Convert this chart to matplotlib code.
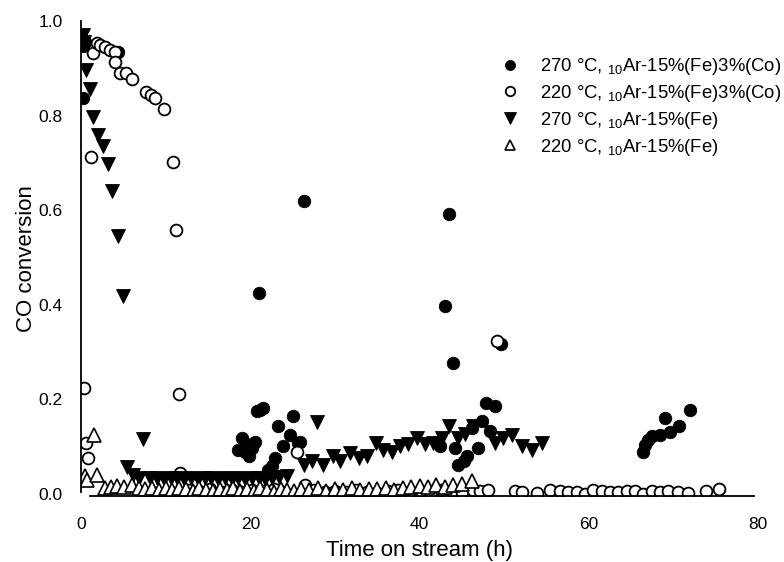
import matplotlib
matplotlib.use("Agg")
import matplotlib.pyplot as plt

plt.rcParams.update(
    {
        "font.family": ["Liberation Sans", "DejaVu Sans"],
        "mathtext.fontset": "custom",
        "mathtext.rm": "Liberation Sans",
        "mathtext.default": "regular",
    }
)

# 270 °C, 10Ar-15%(Fe)3%(Co)  (filled circles)
fc270_x = [0.2, 0.5, 0.2, 4.4,
           18.6, 19.0, 19.4, 19.8, 20.2, 20.6, 19.5, 20.8, 21.2, 21.5, 21.0,
           22.1, 22.6, 22.9, 23.3, 23.9, 24.7, 25.1, 25.6, 25.9, 26.4,
           42.4, 43.0, 43.5, 44.0, 44.2, 44.6, 45.2, 45.6, 46.2, 46.9, 47.4, 47.8, 48.3, 48.9, 49.6,
           66.4, 66.7, 67.0, 67.5, 68.4, 69.0, 69.6, 70.7, 72.0]
fc270_y = [0.838, 0.955, 0.948, 0.935,
           0.093, 0.118, 0.088, 0.080, 0.098, 0.111, 0.105, 0.175, 0.177, 0.181, 0.425,
           0.050, 0.059, 0.076, 0.143, 0.101, 0.124, 0.166, 0.107, 0.111, 0.619,
           0.101, 0.398, 0.592, 0.278, 0.097, 0.061, 0.069, 0.080, 0.139, 0.097, 0.154, 0.192, 0.133, 0.187, 0.318,
           0.090, 0.104, 0.115, 0.122, 0.125, 0.160, 0.132, 0.145, 0.177]

# 220 °C, 10Ar-15%(Fe)3%(Co)  (open circles)
fc220_x = [0.35, 0.6, 0.85, 1.2, 1.4, 1.9, 2.2, 2.8, 3.4, 4.0, 4.0, 4.6, 5.3, 6.0,
           7.7, 8.3, 8.7, 9.8, 10.9, 11.2, 11.6, 11.7, 25.5, 49.1,
           12.8, 14.0, 15.3, 16.5, 17.8, 19.0, 20.2, 21.5, 22.8, 24.0, 26.5, 27.5, 28.8,
           30.0, 31.3, 32.5, 33.8, 35.0, 36.3, 37.5, 38.8, 40.0, 41.3, 42.5, 43.8, 45.0,
           46.3, 47.2, 48.1, 51.3, 52.1, 53.9, 55.4, 56.6, 57.6, 58.6, 59.6, 60.5, 61.6,
           62.5, 63.5, 64.5, 65.5, 66.4, 67.5, 68.4, 69.4, 70.6, 71.7, 73.8, 75.4]
fc220_y = [0.225, 0.107, 0.076, 0.712, 0.932, 0.954, 0.949, 0.945, 0.939, 0.935, 0.914, 0.890, 0.890, 0.877,
           0.849, 0.844, 0.838, 0.813, 0.701, 0.558, 0.211, 0.044, 0.090, 0.324,
           0.008, 0.006, 0.010, 0.005, 0.008, 0.004, 0.009, 0.006, 0.010, 0.005, 0.020, 0.008, 0.005,
           0.006, 0.004, 0.008, 0.005, 0.003, 0.006, 0.008, 0.004, 0.007, 0.005, 0.009, 0.006, 0.004,
           0.008, 0.007, 0.008, 0.006, 0.004, 0.003, 0.009, 0.006, 0.005, 0.004, 0.001, 0.008, 0.006,
           0.005, 0.004, 0.007, 0.006, 0.001, 0.007, 0.005, 0.006, 0.004, 0.003, 0.006, 0.010]

# 270 °C, 10Ar-15%(Fe)  (filled down triangles)
fe270_x = [0.2, 0.4, 0.6, 1.1, 1.4, 2.0, 2.6, 3.2, 3.7, 4.4, 5.0, 5.4, 6.2, 6.8, 7.3,
           8.2, 9.0, 9.8, 10.6, 11.4, 12.2, 13.0, 13.8, 14.6, 15.4, 16.2, 17.0, 17.8,
           18.6, 19.4, 20.2, 21.0, 21.8, 22.6, 23.4, 24.3,
           26.3, 27.3, 27.9, 28.6, 29.8, 30.6, 31.8, 32.8, 33.8, 34.9, 35.7, 36.7, 37.7,
           38.7, 39.7, 40.7, 41.6, 42.7, 43.5, 44.6, 45.4, 46.3, 48.9, 49.9, 50.9, 52.1, 53.3, 54.5]
fe270_y = [0.970, 0.955, 0.897, 0.856, 0.798, 0.760, 0.735, 0.697, 0.640, 0.545, 0.419, 0.057, 0.040, 0.034, 0.116,
           0.033, 0.035, 0.032, 0.034, 0.033, 0.031, 0.034, 0.032, 0.033, 0.035, 0.031, 0.033, 0.032,
           0.034, 0.031, 0.033, 0.035, 0.032, 0.034, 0.036, 0.038,
           0.061, 0.069, 0.152, 0.061, 0.080, 0.069, 0.086, 0.076, 0.080, 0.107, 0.093, 0.090, 0.101,
           0.105, 0.118, 0.105, 0.107, 0.118, 0.143, 0.118, 0.128, 0.143, 0.107, 0.118, 0.124, 0.101, 0.093, 0.107]

# 220 °C, 10Ar-15%(Fe)  (open up triangles)
fe220_x = [0.5, 0.7, 1.5, 1.9,
           2.8, 3.5, 4.3, 5.1, 6.0, 6.8, 7.6, 8.4, 9.2, 10.0, 10.8, 11.6, 12.4, 13.2, 14.0,
           14.8, 15.6, 16.4, 17.2, 18.0, 18.8, 19.6, 20.4, 21.2, 22.0, 22.8, 23.6, 24.4, 25.2,
           26.0, 27.0, 28.0, 29.0, 30.0, 31.0, 32.0, 33.0, 34.0, 35.0, 36.0, 37.0, 38.0, 39.0,
           40.0, 41.0, 42.0, 43.0, 44.0, 45.0, 46.2]
fe220_y = [0.038, 0.030, 0.124, 0.040,
           0.013, 0.016, 0.018, 0.015, 0.019, 0.012, 0.010, 0.013, 0.009, 0.012, 0.008, 0.013, 0.010, 0.007, 0.012,
           0.009, 0.006, 0.011, 0.008, 0.012, 0.007, 0.010, 0.006, 0.012, 0.008, 0.005, 0.011, 0.009, 0.006,
           0.010, 0.008, 0.012, 0.007, 0.010, 0.009, 0.012, 0.008, 0.011, 0.010, 0.013, 0.009, 0.012, 0.015,
           0.017, 0.014, 0.019, 0.016, 0.020, 0.022, 0.027]

labels = [
    "270 °C, $_{10}$Ar-15%(Fe)3%(Co)",
    "220 °C, $_{10}$Ar-15%(Fe)3%(Co)",
    "270 °C, $_{10}$Ar-15%(Fe)",
    "220 °C, $_{10}$Ar-15%(Fe)",
]

fig = plt.figure(figsize=(7.84, 5.62), dpi=100)
ax = fig.add_axes([81 / 784, 66 / 562, 677 / 784, 475 / 562])

ax.plot(fc270_x, fc270_y, "o", ls="none", ms=9, mfc="black", mec="black", mew=0.6, label=labels[0])
ax.plot(fc220_x, fc220_y, "o", ls="none", ms=8.5, mfc="white", mec="black", mew=1.3, label=labels[1])
ax.plot(fe270_x, fe270_y, "v", ls="none", ms=10, mfc="black", mec="black", mew=0.6, label=labels[2])
ax.plot(fe220_x, fe220_y, "^", ls="none", ms=9.5, mfc="white", mec="black", mew=1.2, label=labels[3])

ax.set_xlim(0, 80)
ax.set_ylim(-0.004, 1.0)
ax.spines["top"].set_visible(False)
ax.spines["right"].set_visible(False)
ax.spines["bottom"].set_bounds(1.1, 79.5)
ax.spines["left"].set_bounds(0.005, 1.0)
for s in ("bottom", "left"):
    ax.spines[s].set_linewidth(1.3)

ax.set_xticks([0, 20, 40, 60, 80])
ax.set_yticks([0.0, 0.2, 0.4, 0.6, 0.8, 1.0])
ax.set_yticklabels(["0.0", "0.2", "0.4", "0.6", "0.8", "1.0"])
ax.tick_params(axis="x", length=0, labelsize=12.5, pad=15)
# small white ticks leave the little gaps seen on the y axis line
ax.tick_params(axis="y", length=2.5, width=1.0, color="white", direction="inout",
               labelcolor="black", labelsize=12.5, pad=12)

ax.set_xlabel("Time on stream (h)", fontsize=16, labelpad=6)
ax.set_ylabel("CO conversion", fontsize=16, labelpad=1)

ax.legend(
    loc="upper left",
    bbox_to_anchor=(501 / 784, 1 - 56 / 562),
    bbox_transform=fig.transFigure,
    frameon=False,
    fontsize=13.3,
    handlelength=1.0,
    handletextpad=1.1,
    labelspacing=0.32,
    markerscale=0.8,
    borderaxespad=0,
    borderpad=0,
)

fig.savefig("out.png", dpi=100)
